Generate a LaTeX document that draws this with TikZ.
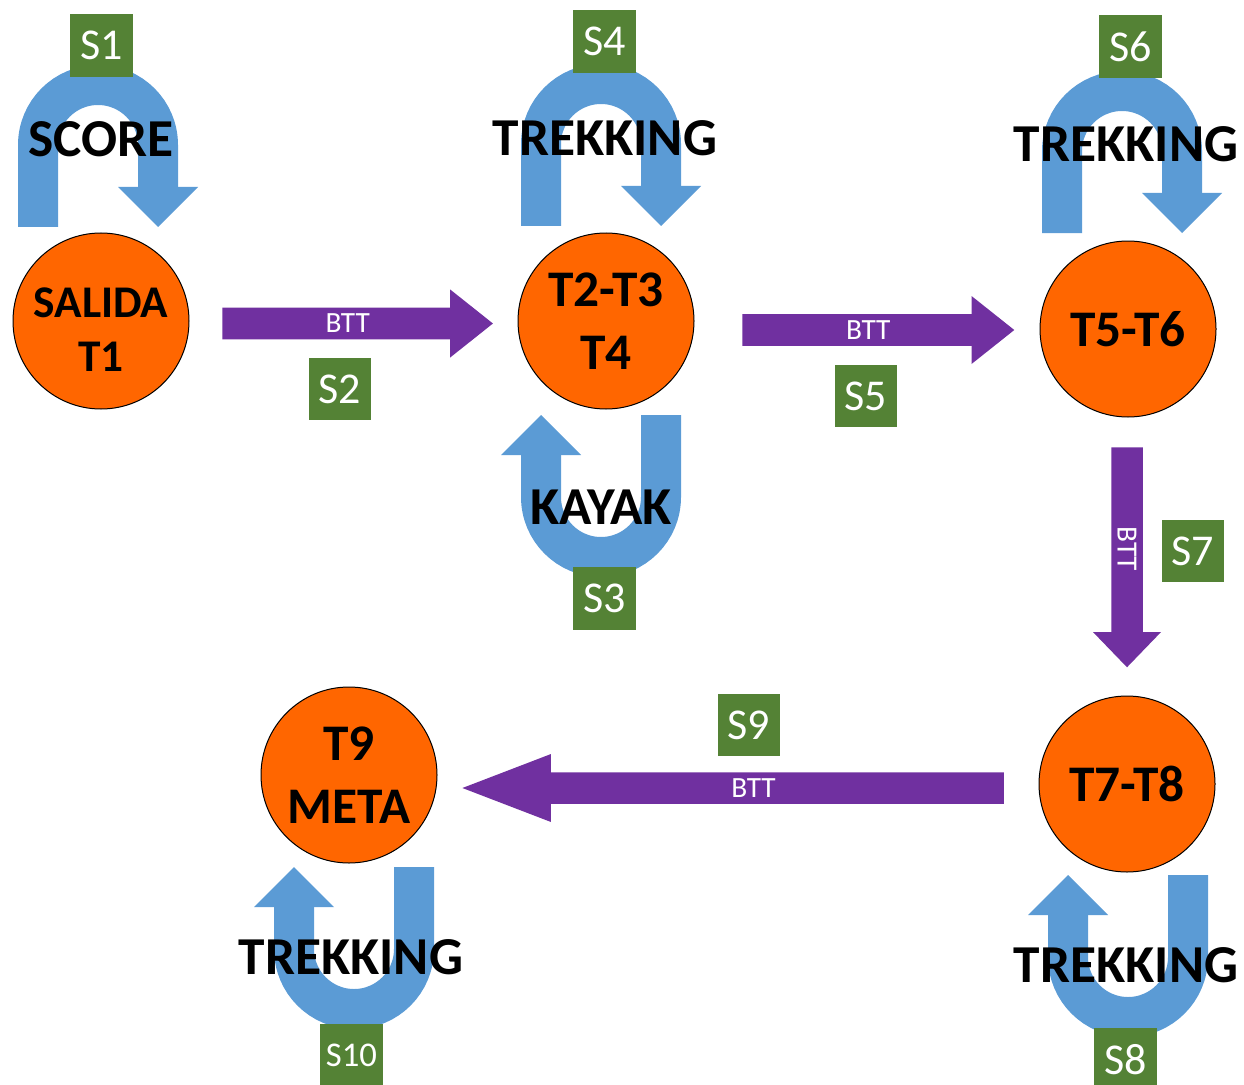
\documentclass[tikz,border=0pt]{standalone}
\usepackage{fontspec}
\setmainfont{Carlito}
\usetikzlibrary{shapes.arrows}

\definecolor{stoporange}{HTML}{FF6600}
\definecolor{legblue}{HTML}{5B9BD5}
\definecolor{bttpurple}{HTML}{7030A0}
\definecolor{stagegreen}{HTML}{548235}

\begin{document}
\begin{tikzpicture}[
    x=0.75pt, y=-0.75pt,
    stop/.style={circle, draw=black, line width=0.75pt, fill=stoporange, minimum size=132pt, inner sep=0pt, align=center, font=\bfseries\fontsize{38.5}{47}\selectfont},
    sport/.style={inner sep=0pt, font=\bfseries\fontsize{40}{48}\selectfont},
    stage/.style={rectangle, fill=stagegreen, minimum size=47pt, inner sep=0pt, text=white, font=\fontsize{33}{39}\selectfont},
    bike/.style={single arrow, fill=bttpurple, minimum width=51pt, single arrow head extend=12.75pt, inner xsep=0pt, inner ysep=3.75pt, anchor=tail, text=white, font=\fontsize{22}{26}\selectfont},
    uturn/.pic={
        \draw[legblue, line width=30pt] (-60,82) -- (-60,0) arc[start angle=180, end angle=0, radius=45pt] -- (60,44);
        \fill[legblue] (20,42) -- (100,42) -- (60,82) -- cycle;
    }
]
\useasboundingbox (0,0) rectangle (1244,1084);

% ==== Loops ====
\pic at (98,145) {uturn};
\pic at (601,144) {uturn};
\pic at (1122,151) {uturn};
\pic[rotate=180] at (601,497) {uturn};
\pic[rotate=180] at (354,949) {uturn};
\pic[rotate=180] at (1128,957) {uturn};

% ==== Stops ====
\node[stop] (t1) at (101,321) {};
\node[align=center, inner sep=0pt, font=\bfseries\fontsize{34}{41}\selectfont] (t1text) at ([yshift=-6.4pt]t1.center) {SALIDA\\T1};
\node[stop] (t234) at (606,321) {T2-T3\\T4};
\node[stop] (t56) at (1128,329) {T5-T6};
\node[stop] (t78) at (1127,784) {T7-T8};
\node[stop] (t9) at (349,775) {T9\\META};

% ==== BTT legs ====
\node[bike, single arrow tip angle=77, minimum height=203pt] (btt2) at (222,323.5) {BTT};
\node[bike, single arrow tip angle=77, minimum height=204pt] (btt5) at (742,330) {BTT};
\node[bike, single arrow tip angle=88, minimum height=165pt, rotate=-90] (btt7) at (1127,447) {BTT};
\node[bike, single arrow tip angle=42, minimum height=406pt, shape border rotate=180] (btt9) at (1004,788) {BTT};

% ==== Stages ====
\node[stage] (s1) at (101.5,45.5) {S1};
\node[stage] (s2) at (340,389) {S2};
\node[stage] (s3) at (604.5,598.5) {S3};
\node[stage] (s4) at (604.5,41.5) {S4};
\node[stage] (s5) at (866,396) {S5};
\node[stage] (s6) at (1130.5,46.5) {S6};
\node[stage] (s7) at (1193,551) {S7};
\node[stage] (s8) at (1125.5,1059.5) {S8};
\node[stage] (s9) at (749,725) {S9};
\node[stage, font=\fontsize{26}{31}\selectfont] (s10) at (351.5,1055.5) {S10};

% ==== Disciplines ====
\node[sport] (score) at (101,139) {SCORE};
\node[sport] (trek4) at (605,138) {TREKKING};
\node[sport] (trek6) at (1126,144) {TREKKING};
\node[sport] (kayak) at (601,507) {KAYAK};
\node[sport] (trek10) at (351,957) {TREKKING};
\node[sport] (trek8) at (1126,965) {TREKKING};

\end{tikzpicture}
\end{document}
